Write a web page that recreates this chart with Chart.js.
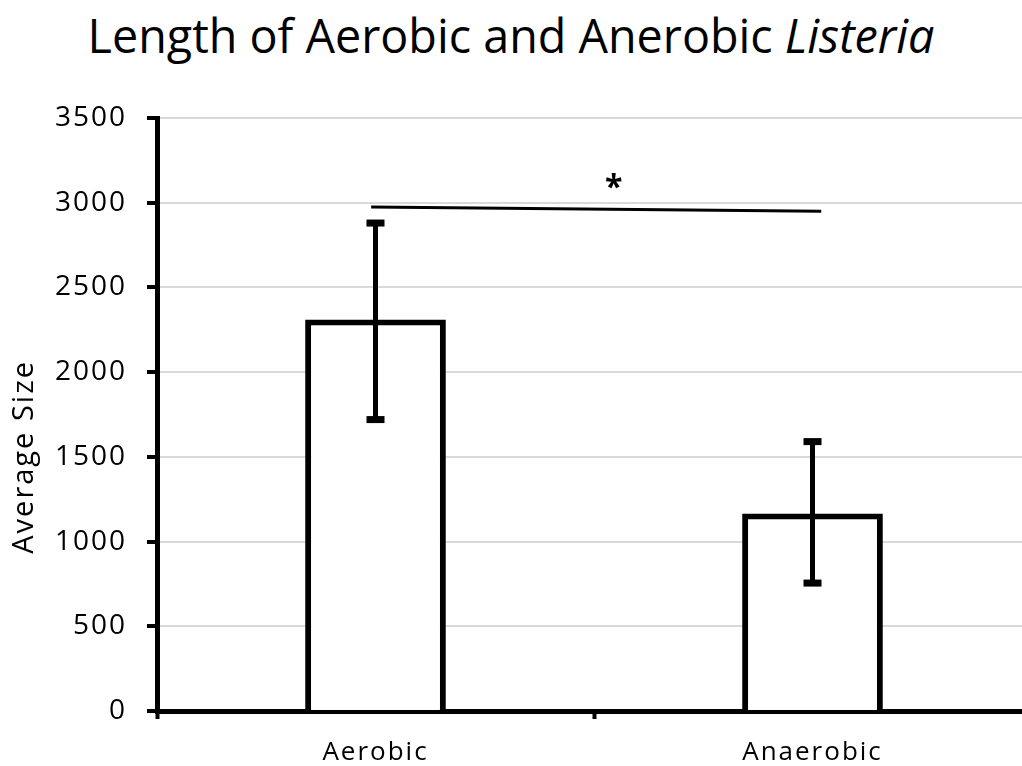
<!DOCTYPE html>
<html>
<head>
<meta charset="utf-8">
<script src="https://cdn.jsdelivr.net/npm/chart.js"></script>
<style>
  html, body { margin: 0; padding: 0; background: #fff; overflow: hidden; }
  #title {
    position: absolute; left: 0; top: 3px; width: 1022px;
    text-align: center; font-family: "Open Sans", sans-serif; font-size: 46.7px;
    color: #000; white-space: nowrap;
  }
  #wrap { position: absolute; left: 0; top: 0; width: 1031px; height: 766px; }
</style>
</head>
<body>
<div id="title">Length of Aerobic and Anerobic <i>Listeria</i></div>
<div id="wrap"><canvas id="lengthChart"></canvas></div>
<script>
// values
const categories = ['Aerobic', 'Anaerobic'];
const avgSize = [2310, 1165];
const errLow = [1720, 755];
const errHigh = [2880, 1590];
const yTicks = [0, 500, 1000, 1500, 2000, 2500, 3000, 3500];
const yTitle = 'Average Size';

// significance bracket between the two bars (category index, value)
const sigLineX = [-0.01, 1.02];
const sigLineY = [2975, 2950];
const sigStar = { x: 0.545, y: 3080, text: '*' };

const textSpacing = {
  id: 'textSpacing',
  beforeDraw(chart) { chart.ctx.letterSpacing = '2px'; }
};

// y title drawn by hand: in the original it sits below the middle of the axis
const yTitleLabel = {
  id: 'yTitleLabel',
  afterDraw(chart) {
    const ctx = chart.ctx;
    const y = chart.scales.y;
    ctx.save();
    ctx.translate(25, y.getPixelForValue(1500));
    ctx.rotate(-Math.PI / 2);
    ctx.fillStyle = '#000';
    ctx.font = '29px "Open Sans", sans-serif';
    ctx.textAlign = 'center';
    ctx.textBaseline = 'middle';
    ctx.fillText(yTitle, 0, 0);
    ctx.restore();
  }
};

const errorBars = {
  id: 'errorBars',
  afterDatasetsDraw(chart) {
    const ctx = chart.ctx;
    const y = chart.scales.y;
    const meta = chart.getDatasetMeta(0);
    ctx.save();
    ctx.strokeStyle = '#000';
    ctx.fillStyle = '#000';
    ctx.lineWidth = 5;
    meta.data.forEach((bar, i) => {
      const top = y.getPixelForValue(errHigh[i]);
      const bot = y.getPixelForValue(errLow[i]);
      ctx.beginPath();
      ctx.moveTo(bar.x, top);
      ctx.lineTo(bar.x, bot);
      ctx.stroke();
      ctx.fillRect(bar.x - 9, top - 3.5, 18, 7);
      ctx.fillRect(bar.x - 9, bot - 3.5, 18, 7);
    });
    ctx.restore();
  }
};

const sigBracket = {
  id: 'sigBracket',
  afterDatasetsDraw(chart) {
    const ctx = chart.ctx;
    const x = chart.scales.x, y = chart.scales.y;
    ctx.save();
    ctx.strokeStyle = '#000';
    ctx.lineWidth = 3;
    ctx.beginPath();
    ctx.moveTo(x.getPixelForValue(sigLineX[0]), y.getPixelForValue(sigLineY[0]));
    ctx.lineTo(x.getPixelForValue(sigLineX[1]), y.getPixelForValue(sigLineY[1]));
    ctx.stroke();
    ctx.fillStyle = '#000';
    ctx.letterSpacing = '0px';
    ctx.font = 'bold 32px "Open Sans", sans-serif';
    ctx.textAlign = 'center';
    ctx.textBaseline = 'middle';
    ctx.fillText(sigStar.text, x.getPixelForValue(sigStar.x), y.getPixelForValue(sigStar.y));
    ctx.restore();
  }
};

new Chart(document.getElementById('lengthChart'), {
  type: 'bar',
  data: {
    labels: categories,
    datasets: [{
      data: avgSize,
      backgroundColor: '#fff',
      borderColor: '#000',
      borderWidth: 6,
      borderSkipped: 'start',
      barPercentage: 0.322,
      categoryPercentage: 1
    }]
  },
  options: {
    responsive: true,
    maintainAspectRatio: false,
    animation: false,
    events: [],
    layout: { padding: { top: 118, left: 0, right: 0, bottom: 0 } },
    plugins: {
      legend: { display: false },
      tooltip: { enabled: false },
      title: { display: false }
    },
    scales: {
      x: {
        offset: true,
        grid: {
          offset: true,
          drawOnChartArea: false,
          tickLength: 8,
          tickColor: '#000',
          tickWidth: 4
        },
        border: { color: '#000', width: 5 },
        ticks: {
          padding: 18,
          color: '#000',
          font: { family: '"Open Sans", sans-serif', size: 26 }
        },
        afterFit(scale) { scale.height = 55; }
      },
      y: {
        min: 0,
        max: 3500,
        afterBuildTicks(scale) { scale.ticks = yTicks.map(v => ({ value: v })); },
        grid: {
          color: '#d9d9d9',
          lineWidth: 2,
          tickLength: 10,
          tickColor: '#000',
          tickWidth: 4
        },
        border: { color: '#000', width: 5 },
        ticks: {
          padding: 20,
          color: '#000',
          font: { family: '"Open Sans", sans-serif', size: 28 },
          callback: v => String(v)
        },
        afterFit(scale) { scale.width = 157; }
      }
    }
  },
  plugins: [textSpacing, errorBars, sigBracket, yTitleLabel]
});
</script>
</body>
</html>
